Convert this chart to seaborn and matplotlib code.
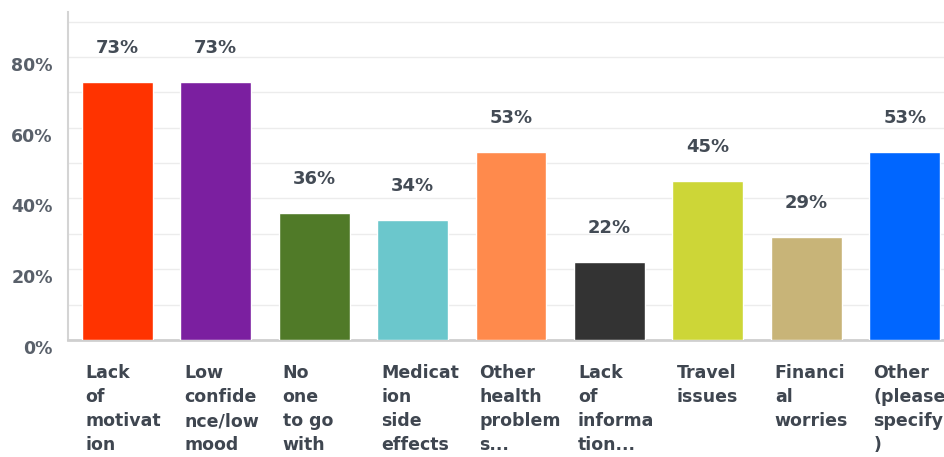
import matplotlib
matplotlib.use("Agg")
import matplotlib.pyplot as plt
import matplotlib.transforms as mtransforms
from matplotlib.ticker import MultipleLocator, FuncFormatter
import seaborn as sns
import pandas as pd

# Reasons given, with the share of respondents choosing each
categories = [
    "Lack of motivation",
    "Low confidence/low mood",
    "No one to go with",
    "Medication side effects",
    "Other health problems",
    "Lack of information",
    "Travel issues",
    "Financial worries",
    "Other (please specify)",
]
wrapped_labels = [
    "Lack\nof\nmotivat\nion",
    "Low\nconfide\nnce/low\nmood",
    "No\none\nto go\nwith",
    "Medicat\nion\nside\neffects",
    "Other\nhealth\nproblem\ns...",
    "Lack\nof\ninforma\ntion...",
    "Travel\nissues",
    "Financi\nal\nworries",
    "Other\n(please\nspecify\n)",
]
values = [73, 73, 36, 34, 53, 22, 45, 29, 53]
colors = ["#ff3300", "#7b1fa0", "#507a28", "#6bc7cc", "#ff8a4c",
          "#333333", "#cdd637", "#c8b478", "#0066ff"]

df = pd.DataFrame({"category": categories, "value": values})

sns.set_theme(style="white")
plt.rcParams["font.family"] = ["DejaVu Sans"]

fig = plt.figure(figsize=(9.44, 4.57), dpi=100)
ax = fig.add_axes([68 / 944, 117 / 457, 886 / 944, 328 / 457])

sns.barplot(data=df, x="category", y="value", hue="category",
            palette=colors, legend=False, width=0.72, saturation=1,
            ax=ax, zorder=3)

ax.set_xlim(-0.5, len(categories) - 0.5)
ax.set_ylim(0, 92.7)
ax.yaxis.set_major_locator(MultipleLocator(20))
ax.yaxis.set_minor_locator(MultipleLocator(10))
ax.yaxis.set_major_formatter(FuncFormatter(lambda v, _: f"{v:.0f}%"))
ax.grid(axis="y", which="both", color="#ececec", linewidth=1, zorder=0)
ax.set_axisbelow(True)

for side in ["top", "right"]:
    ax.spines[side].set_visible(False)
ax.spines["left"].set_color("#d4d4d4")
ax.spines["left"].set_linewidth(1.5)
ax.spines["bottom"].set_color("#cfcfcf")
ax.spines["bottom"].set_linewidth(2)

ax.set_xlabel("")
ax.set_ylabel("")
ax.tick_params(axis="x", length=0, labelbottom=False)
ax.tick_params(axis="y", which="both", length=0, pad=11,
               labelsize=12.5, labelcolor="#59606a")
for lbl in ax.get_yticklabels():
    lbl.set_fontweight("bold")
    lbl.set_transform(lbl.get_transform() +
                      mtransforms.ScaledTranslation(0, -7 / 100, fig.dpi_scale_trans))

# Value labels above each bar
for i, v in enumerate(values):
    ax.annotate(f"{v}%", xy=(i, v), xytext=(0, 34), textcoords="offset pixels",
                ha="center", va="center", fontsize=13, fontweight="bold",
                color="#434b55")

# Wrapped category labels, left-aligned under each bar
trans = mtransforms.blended_transform_factory(ax.transData, ax.transAxes)
for i, lab in enumerate(wrapped_labels):
    ax.text(i - 0.36 + 0.04, -24 / 328, lab, transform=trans,
            ha="left", va="top", fontsize=12.5, fontweight="bold",
            color="#3f4650", linespacing=1.44)

fig.savefig("out.png", dpi=100)
